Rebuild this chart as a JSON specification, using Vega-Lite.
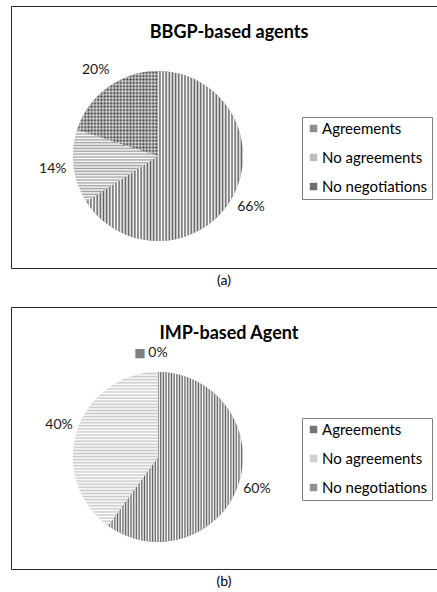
{
"$schema": "https://vega.github.io/schema/vega-lite/v6.json",
"padding": {"left": 10, "top": 5, "right": 0, "bottom": 0},
"background": "#ffffff",
"config": {"font": "Lato", "view": {"stroke": "#262626", "strokeWidth": 1}, "style": {"view": {"stroke": "#262626", "strokeWidth": 1}, "cell": {"stroke": "#262626", "strokeWidth": 1}}},
"datasets": {
  "bbgp": [{"cat": "Agreements", "value": 0.66}, {"cat": "No agreements", "value": 0.14}, {"cat": "No negotiations", "value": 0.20}],
  "imp": [{"cat": "Agreements", "value": 0.60}, {"cat": "No agreements", "value": 0.40}, {"cat": "No negotiations", "value": 0}]
},
"resolve": {"scale": {"fill": "independent", "theta": "independent"}, "legend": {"fill": "independent"}},
"spacing": 18,
"vconcat": [
{
  "title": {"text": "(a)", "orient": "bottom", "offset": 5, "fontSize": 14, "fontWeight": "normal", "color": "#000", "anchor": "middle"},
  "vconcat": [{
    "width": 426, "height": 262,
    "view": {"stroke": "#262626", "strokeWidth": 1},
    "data": {"name": "bbgp"},
    "title": {"text": "BBGP-based agents", "orient": "top", "offset": -36, "fontSize": 18, "fontWeight": "bold", "color": "#000", "anchor": "middle", "frame": "group", "dx": 5},
    "layer": [
      {"mark": {"type": "arc", "radius": 85, "x": 147, "y": 150},
       "encoding": {
         "theta": {"field": "value", "type": "quantitative", "stack": true},
         "order": {"field": "cat", "type": "ordinal"},
         "fill": {"field": "cat", "type": "nominal",
           "scale": {"domain": ["Agreements", "No agreements", "No negotiations"], "range": ["#5e5e5e", "#a0a0a0", "#333333"]},
           "legend": {"title": null, "orient": "none", "legendX": 291, "legendY": 111, "symbolType": "square", "symbolSize": 56, "symbolStrokeWidth": 0, "symbolOpacity": 0.7, "labelFontSize": 15, "labelColor": "#000", "labelFont": "Lato", "strokeColor": "#7f7f7f", "fillColor": "#fff", "padding": 4, "rowPadding": 13, "labelOffset": 1}}
       }},
      {"mark": {"type": "arc", "radius": 85, "x": 147, "y": 150},
       "encoding": {
         "theta": {"field": "value", "type": "quantitative", "stack": true},
         "order": {"field": "cat", "type": "ordinal"},
         "detail": {"field": "cat", "type": "nominal"},
         "fill": {"condition": [
           {"test": "datum.cat === 'Agreements'", "value": {"gradient": "linear", "x1": 0, "y1": 0, "x2": 1, "y2": 0, "stops": [{"offset":0,"color":"#fff"},{"offset":0.01,"color":"#fff0"},{"offset":0.02,"color":"#fff"},{"offset":0.03,"color":"#fff0"},{"offset":0.04,"color":"#fff"},{"offset":0.05,"color":"#fff0"},{"offset":0.06,"color":"#fff"},{"offset":0.07,"color":"#fff0"},{"offset":0.08,"color":"#fff"},{"offset":0.09,"color":"#fff0"},{"offset":0.1,"color":"#fff"},{"offset":0.11,"color":"#fff0"},{"offset":0.12,"color":"#fff"},{"offset":0.13,"color":"#fff0"},{"offset":0.14,"color":"#fff"},{"offset":0.15,"color":"#fff0"},{"offset":0.16,"color":"#fff"},{"offset":0.17,"color":"#fff0"},{"offset":0.18,"color":"#fff"},{"offset":0.19,"color":"#fff0"},{"offset":0.2,"color":"#fff"},{"offset":0.21,"color":"#fff0"},{"offset":0.22,"color":"#fff"},{"offset":0.23,"color":"#fff0"},{"offset":0.24,"color":"#fff"},{"offset":0.25,"color":"#fff0"},{"offset":0.26,"color":"#fff"},{"offset":0.27,"color":"#fff0"},{"offset":0.28,"color":"#fff"},{"offset":0.29,"color":"#fff0"},{"offset":0.3,"color":"#fff"},{"offset":0.31,"color":"#fff0"},{"offset":0.32,"color":"#fff"},{"offset":0.33,"color":"#fff0"},{"offset":0.34,"color":"#fff"},{"offset":0.35,"color":"#fff0"},{"offset":0.36,"color":"#fff"},{"offset":0.37,"color":"#fff0"},{"offset":0.38,"color":"#fff"},{"offset":0.39,"color":"#fff0"},{"offset":0.4,"color":"#fff"},{"offset":0.41,"color":"#fff0"},{"offset":0.42,"color":"#fff"},{"offset":0.43,"color":"#fff0"},{"offset":0.44,"color":"#fff"},{"offset":0.45,"color":"#fff0"},{"offset":0.46,"color":"#fff"},{"offset":0.47,"color":"#fff0"},{"offset":0.48,"color":"#fff"},{"offset":0.49,"color":"#fff0"},{"offset":0.5,"color":"#fff"},{"offset":0.51,"color":"#fff0"},{"offset":0.52,"color":"#fff"},{"offset":0.53,"color":"#fff0"},{"offset":0.54,"color":"#fff"},{"offset":0.55,"color":"#fff0"},{"offset":0.56,"color":"#fff"},{"offset":0.57,"color":"#fff0"},{"offset":0.58,"color":"#fff"},{"offset":0.59,"color":"#fff0"},{"offset":0.6,"color":"#fff"},{"offset":0.61,"color":"#fff0"},{"offset":0.62,"color":"#fff"},{"offset":0.63,"color":"#fff0"},{"offset":0.64,"color":"#fff"},{"offset":0.65,"color":"#fff0"},{"offset":0.66,"color":"#fff"},{"offset":0.67,"color":"#fff0"},{"offset":0.68,"color":"#fff"},{"offset":0.69,"color":"#fff0"},{"offset":0.7,"color":"#fff"},{"offset":0.71,"color":"#fff0"},{"offset":0.72,"color":"#fff"},{"offset":0.73,"color":"#fff0"},{"offset":0.74,"color":"#fff"},{"offset":0.75,"color":"#fff0"},{"offset":0.76,"color":"#fff"},{"offset":0.77,"color":"#fff0"},{"offset":0.78,"color":"#fff"},{"offset":0.79,"color":"#fff0"},{"offset":0.8,"color":"#fff"},{"offset":0.81,"color":"#fff0"},{"offset":0.82,"color":"#fff"},{"offset":0.83,"color":"#fff0"},{"offset":0.84,"color":"#fff"},{"offset":0.85,"color":"#fff0"},{"offset":0.86,"color":"#fff"},{"offset":0.87,"color":"#fff0"},{"offset":0.88,"color":"#fff"},{"offset":0.89,"color":"#fff0"},{"offset":0.9,"color":"#fff"},{"offset":0.91,"color":"#fff0"},{"offset":0.92,"color":"#fff"},{"offset":0.93,"color":"#fff0"},{"offset":0.94,"color":"#fff"},{"offset":0.95,"color":"#fff0"},{"offset":0.96,"color":"#fff"},{"offset":0.97,"color":"#fff0"},{"offset":0.98,"color":"#fff"},{"offset":0.99,"color":"#fff0"},{"offset":1,"color":"#fff"}]}},
           {"test": "datum.cat === 'No agreements'", "value": {"gradient": "linear", "x1": 0, "y1": 0, "x2": 0, "y2": 1, "stops": [{"offset":0,"color":"#fff"},{"offset":0.02,"color":"#fff0"},{"offset":0.04,"color":"#fff"},{"offset":0.06,"color":"#fff0"},{"offset":0.08,"color":"#fff"},{"offset":0.1,"color":"#fff0"},{"offset":0.12,"color":"#fff"},{"offset":0.14,"color":"#fff0"},{"offset":0.16,"color":"#fff"},{"offset":0.18,"color":"#fff0"},{"offset":0.2,"color":"#fff"},{"offset":0.22,"color":"#fff0"},{"offset":0.24,"color":"#fff"},{"offset":0.26,"color":"#fff0"},{"offset":0.28,"color":"#fff"},{"offset":0.3,"color":"#fff0"},{"offset":0.32,"color":"#fff"},{"offset":0.34,"color":"#fff0"},{"offset":0.36,"color":"#fff"},{"offset":0.38,"color":"#fff0"},{"offset":0.4,"color":"#fff"},{"offset":0.42,"color":"#fff0"},{"offset":0.44,"color":"#fff"},{"offset":0.46,"color":"#fff0"},{"offset":0.48,"color":"#fff"},{"offset":0.5,"color":"#fff0"},{"offset":0.52,"color":"#fff"},{"offset":0.54,"color":"#fff0"},{"offset":0.56,"color":"#fff"},{"offset":0.58,"color":"#fff0"},{"offset":0.6,"color":"#fff"},{"offset":0.62,"color":"#fff0"},{"offset":0.64,"color":"#fff"},{"offset":0.66,"color":"#fff0"},{"offset":0.68,"color":"#fff"},{"offset":0.7,"color":"#fff0"},{"offset":0.72,"color":"#fff"},{"offset":0.74,"color":"#fff0"},{"offset":0.76,"color":"#fff"},{"offset":0.78,"color":"#fff0"},{"offset":0.8,"color":"#fff"},{"offset":0.82,"color":"#fff0"},{"offset":0.84,"color":"#fff"},{"offset":0.86,"color":"#fff0"},{"offset":0.88,"color":"#fff"},{"offset":0.9,"color":"#fff0"},{"offset":0.92,"color":"#fff"},{"offset":0.94,"color":"#fff0"},{"offset":0.96,"color":"#fff"},{"offset":0.98,"color":"#fff0"},{"offset":1,"color":"#fff"}]}}
         ],
         "value": {"gradient": "linear", "x1": 0, "y1": 0, "x2": 1, "y2": 0, "stops": [{"offset":0,"color":"#fff9"},{"offset":0.02,"color":"#fff0"},{"offset":0.04,"color":"#fff9"},{"offset":0.06,"color":"#fff0"},{"offset":0.08,"color":"#fff9"},{"offset":0.1,"color":"#fff0"},{"offset":0.12,"color":"#fff9"},{"offset":0.14,"color":"#fff0"},{"offset":0.16,"color":"#fff9"},{"offset":0.18,"color":"#fff0"},{"offset":0.2,"color":"#fff9"},{"offset":0.22,"color":"#fff0"},{"offset":0.24,"color":"#fff9"},{"offset":0.26,"color":"#fff0"},{"offset":0.28,"color":"#fff9"},{"offset":0.3,"color":"#fff0"},{"offset":0.32,"color":"#fff9"},{"offset":0.34,"color":"#fff0"},{"offset":0.36,"color":"#fff9"},{"offset":0.38,"color":"#fff0"},{"offset":0.4,"color":"#fff9"},{"offset":0.42,"color":"#fff0"},{"offset":0.44,"color":"#fff9"},{"offset":0.46,"color":"#fff0"},{"offset":0.48,"color":"#fff9"},{"offset":0.5,"color":"#fff0"},{"offset":0.52,"color":"#fff9"},{"offset":0.54,"color":"#fff0"},{"offset":0.56,"color":"#fff9"},{"offset":0.58,"color":"#fff0"},{"offset":0.6,"color":"#fff9"},{"offset":0.62,"color":"#fff0"},{"offset":0.64,"color":"#fff9"},{"offset":0.66,"color":"#fff0"},{"offset":0.68,"color":"#fff9"},{"offset":0.7,"color":"#fff0"},{"offset":0.72,"color":"#fff9"},{"offset":0.74,"color":"#fff0"},{"offset":0.76,"color":"#fff9"},{"offset":0.78,"color":"#fff0"},{"offset":0.8,"color":"#fff9"},{"offset":0.82,"color":"#fff0"},{"offset":0.84,"color":"#fff9"},{"offset":0.86,"color":"#fff0"},{"offset":0.88,"color":"#fff9"},{"offset":0.9,"color":"#fff0"},{"offset":0.92,"color":"#fff9"},{"offset":0.94,"color":"#fff0"},{"offset":0.96,"color":"#fff9"},{"offset":0.98,"color":"#fff0"},{"offset":1,"color":"#fff9"}]}}
       }},
      {"mark": {"type": "arc", "radius": 85, "x": 147, "y": 150},
       "encoding": {
         "theta": {"field": "value", "type": "quantitative", "stack": true},
         "order": {"field": "cat", "type": "ordinal"},
         "detail": {"field": "cat", "type": "nominal"},
         "fill": {"condition": {"test": "datum.cat === 'No negotiations'", "value": {"gradient": "linear", "x1": 0, "y1": 0, "x2": 0, "y2": 1, "stops": [{"offset":0,"color":"#fff9"},{"offset":0.02,"color":"#fff0"},{"offset":0.04,"color":"#fff9"},{"offset":0.06,"color":"#fff0"},{"offset":0.08,"color":"#fff9"},{"offset":0.1,"color":"#fff0"},{"offset":0.12,"color":"#fff9"},{"offset":0.14,"color":"#fff0"},{"offset":0.16,"color":"#fff9"},{"offset":0.18,"color":"#fff0"},{"offset":0.2,"color":"#fff9"},{"offset":0.22,"color":"#fff0"},{"offset":0.24,"color":"#fff9"},{"offset":0.26,"color":"#fff0"},{"offset":0.28,"color":"#fff9"},{"offset":0.3,"color":"#fff0"},{"offset":0.32,"color":"#fff9"},{"offset":0.34,"color":"#fff0"},{"offset":0.36,"color":"#fff9"},{"offset":0.38,"color":"#fff0"},{"offset":0.4,"color":"#fff9"},{"offset":0.42,"color":"#fff0"},{"offset":0.44,"color":"#fff9"},{"offset":0.46,"color":"#fff0"},{"offset":0.48,"color":"#fff9"},{"offset":0.5,"color":"#fff0"},{"offset":0.52,"color":"#fff9"},{"offset":0.54,"color":"#fff0"},{"offset":0.56,"color":"#fff9"},{"offset":0.58,"color":"#fff0"},{"offset":0.6,"color":"#fff9"},{"offset":0.62,"color":"#fff0"},{"offset":0.64,"color":"#fff9"},{"offset":0.66,"color":"#fff0"},{"offset":0.68,"color":"#fff9"},{"offset":0.7,"color":"#fff0"},{"offset":0.72,"color":"#fff9"},{"offset":0.74,"color":"#fff0"},{"offset":0.76,"color":"#fff9"},{"offset":0.78,"color":"#fff0"},{"offset":0.8,"color":"#fff9"},{"offset":0.82,"color":"#fff0"},{"offset":0.84,"color":"#fff9"},{"offset":0.86,"color":"#fff0"},{"offset":0.88,"color":"#fff9"},{"offset":0.9,"color":"#fff0"},{"offset":0.92,"color":"#fff9"},{"offset":0.94,"color":"#fff0"},{"offset":0.96,"color":"#fff9"},{"offset":0.98,"color":"#fff0"},{"offset":1,"color":"#fff9"}]}}, "value": "transparent"}
       }},
      {"mark": {"type": "text", "radius": 106, "x": 147, "y": 150, "fontSize": 14, "color": "#1a1a1a", "font": "Lato"},
       "encoding": {
         "theta": {"field": "value", "type": "quantitative", "stack": true},
         "order": {"field": "cat", "type": "ordinal"},
         "detail": {"field": "cat", "type": "nominal"},
         "text": {"field": "value", "type": "quantitative", "format": ".0%"}
       }}
    ]
  }]
},
{
  "title": {"text": "(b)", "orient": "bottom", "offset": 5, "fontSize": 14, "fontWeight": "normal", "color": "#000", "anchor": "middle"},
  "vconcat": [{
    "width": 426, "height": 262,
    "view": {"stroke": "#262626", "strokeWidth": 1},
    "data": {"name": "imp"},
    "title": {"text": "IMP-based Agent", "orient": "top", "offset": -36, "fontSize": 18, "fontWeight": "bold", "color": "#000", "anchor": "middle", "frame": "group", "dx": 5},
    "layer": [
      {"mark": {"type": "arc", "radius": 85, "x": 147, "y": 150},
       "encoding": {
         "theta": {"field": "value", "type": "quantitative", "stack": true},
         "order": {"field": "cat", "type": "ordinal"},
         "fill": {"field": "cat", "type": "nominal",
           "scale": {"domain": ["Agreements", "No agreements", "No negotiations"], "range": ["#5e5e5e", "#c8c8c8", "#7f7f7f"]},
           "legend": {"title": null, "orient": "none", "legendX": 291, "legendY": 111, "symbolType": "square", "symbolSize": 56, "symbolStrokeWidth": 0, "symbolOpacity": 0.85, "labelFontSize": 15, "labelColor": "#000", "labelFont": "Lato", "strokeColor": "#7f7f7f", "fillColor": "#fff", "padding": 4, "rowPadding": 13, "labelOffset": 1}}
       }},
      {"mark": {"type": "arc", "radius": 85, "x": 147, "y": 150},
       "encoding": {
         "theta": {"field": "value", "type": "quantitative", "stack": true},
         "order": {"field": "cat", "type": "ordinal"},
         "detail": {"field": "cat", "type": "nominal"},
         "fill": {"condition": [
           {"test": "datum.cat === 'Agreements'", "value": {"gradient": "linear", "x1": 0, "y1": 0, "x2": 1, "y2": 0, "stops": [{"offset":0,"color":"#fff"},{"offset":0.01,"color":"#fff0"},{"offset":0.02,"color":"#fff"},{"offset":0.03,"color":"#fff0"},{"offset":0.04,"color":"#fff"},{"offset":0.05,"color":"#fff0"},{"offset":0.06,"color":"#fff"},{"offset":0.07,"color":"#fff0"},{"offset":0.08,"color":"#fff"},{"offset":0.09,"color":"#fff0"},{"offset":0.1,"color":"#fff"},{"offset":0.11,"color":"#fff0"},{"offset":0.12,"color":"#fff"},{"offset":0.13,"color":"#fff0"},{"offset":0.14,"color":"#fff"},{"offset":0.15,"color":"#fff0"},{"offset":0.16,"color":"#fff"},{"offset":0.17,"color":"#fff0"},{"offset":0.18,"color":"#fff"},{"offset":0.19,"color":"#fff0"},{"offset":0.2,"color":"#fff"},{"offset":0.21,"color":"#fff0"},{"offset":0.22,"color":"#fff"},{"offset":0.23,"color":"#fff0"},{"offset":0.24,"color":"#fff"},{"offset":0.25,"color":"#fff0"},{"offset":0.26,"color":"#fff"},{"offset":0.27,"color":"#fff0"},{"offset":0.28,"color":"#fff"},{"offset":0.29,"color":"#fff0"},{"offset":0.3,"color":"#fff"},{"offset":0.31,"color":"#fff0"},{"offset":0.32,"color":"#fff"},{"offset":0.33,"color":"#fff0"},{"offset":0.34,"color":"#fff"},{"offset":0.35,"color":"#fff0"},{"offset":0.36,"color":"#fff"},{"offset":0.37,"color":"#fff0"},{"offset":0.38,"color":"#fff"},{"offset":0.39,"color":"#fff0"},{"offset":0.4,"color":"#fff"},{"offset":0.41,"color":"#fff0"},{"offset":0.42,"color":"#fff"},{"offset":0.43,"color":"#fff0"},{"offset":0.44,"color":"#fff"},{"offset":0.45,"color":"#fff0"},{"offset":0.46,"color":"#fff"},{"offset":0.47,"color":"#fff0"},{"offset":0.48,"color":"#fff"},{"offset":0.49,"color":"#fff0"},{"offset":0.5,"color":"#fff"},{"offset":0.51,"color":"#fff0"},{"offset":0.52,"color":"#fff"},{"offset":0.53,"color":"#fff0"},{"offset":0.54,"color":"#fff"},{"offset":0.55,"color":"#fff0"},{"offset":0.56,"color":"#fff"},{"offset":0.57,"color":"#fff0"},{"offset":0.58,"color":"#fff"},{"offset":0.59,"color":"#fff0"},{"offset":0.6,"color":"#fff"},{"offset":0.61,"color":"#fff0"},{"offset":0.62,"color":"#fff"},{"offset":0.63,"color":"#fff0"},{"offset":0.64,"color":"#fff"},{"offset":0.65,"color":"#fff0"},{"offset":0.66,"color":"#fff"},{"offset":0.67,"color":"#fff0"},{"offset":0.68,"color":"#fff"},{"offset":0.69,"color":"#fff0"},{"offset":0.7,"color":"#fff"},{"offset":0.71,"color":"#fff0"},{"offset":0.72,"color":"#fff"},{"offset":0.73,"color":"#fff0"},{"offset":0.74,"color":"#fff"},{"offset":0.75,"color":"#fff0"},{"offset":0.76,"color":"#fff"},{"offset":0.77,"color":"#fff0"},{"offset":0.78,"color":"#fff"},{"offset":0.79,"color":"#fff0"},{"offset":0.8,"color":"#fff"},{"offset":0.81,"color":"#fff0"},{"offset":0.82,"color":"#fff"},{"offset":0.83,"color":"#fff0"},{"offset":0.84,"color":"#fff"},{"offset":0.85,"color":"#fff0"},{"offset":0.86,"color":"#fff"},{"offset":0.87,"color":"#fff0"},{"offset":0.88,"color":"#fff"},{"offset":0.89,"color":"#fff0"},{"offset":0.9,"color":"#fff"},{"offset":0.91,"color":"#fff0"},{"offset":0.92,"color":"#fff"},{"offset":0.93,"color":"#fff0"},{"offset":0.94,"color":"#fff"},{"offset":0.95,"color":"#fff0"},{"offset":0.96,"color":"#fff"},{"offset":0.97,"color":"#fff0"},{"offset":0.98,"color":"#fff"},{"offset":0.99,"color":"#fff0"},{"offset":1,"color":"#fff"}]}},
           {"test": "datum.cat === 'No agreements'", "value": {"gradient": "linear", "x1": 0, "y1": 0, "x2": 0, "y2": 1, "stops": [{"offset":0,"color":"#fff"},{"offset":0.01,"color":"#fff0"},{"offset":0.02,"color":"#fff"},{"offset":0.03,"color":"#fff0"},{"offset":0.04,"color":"#fff"},{"offset":0.05,"color":"#fff0"},{"offset":0.06,"color":"#fff"},{"offset":0.07,"color":"#fff0"},{"offset":0.08,"color":"#fff"},{"offset":0.09,"color":"#fff0"},{"offset":0.1,"color":"#fff"},{"offset":0.11,"color":"#fff0"},{"offset":0.12,"color":"#fff"},{"offset":0.13,"color":"#fff0"},{"offset":0.14,"color":"#fff"},{"offset":0.15,"color":"#fff0"},{"offset":0.16,"color":"#fff"},{"offset":0.17,"color":"#fff0"},{"offset":0.18,"color":"#fff"},{"offset":0.19,"color":"#fff0"},{"offset":0.2,"color":"#fff"},{"offset":0.21,"color":"#fff0"},{"offset":0.22,"color":"#fff"},{"offset":0.23,"color":"#fff0"},{"offset":0.24,"color":"#fff"},{"offset":0.25,"color":"#fff0"},{"offset":0.26,"color":"#fff"},{"offset":0.27,"color":"#fff0"},{"offset":0.28,"color":"#fff"},{"offset":0.29,"color":"#fff0"},{"offset":0.3,"color":"#fff"},{"offset":0.31,"color":"#fff0"},{"offset":0.32,"color":"#fff"},{"offset":0.33,"color":"#fff0"},{"offset":0.34,"color":"#fff"},{"offset":0.35,"color":"#fff0"},{"offset":0.36,"color":"#fff"},{"offset":0.37,"color":"#fff0"},{"offset":0.38,"color":"#fff"},{"offset":0.39,"color":"#fff0"},{"offset":0.4,"color":"#fff"},{"offset":0.41,"color":"#fff0"},{"offset":0.42,"color":"#fff"},{"offset":0.43,"color":"#fff0"},{"offset":0.44,"color":"#fff"},{"offset":0.45,"color":"#fff0"},{"offset":0.46,"color":"#fff"},{"offset":0.47,"color":"#fff0"},{"offset":0.48,"color":"#fff"},{"offset":0.49,"color":"#fff0"},{"offset":0.5,"color":"#fff"},{"offset":0.51,"color":"#fff0"},{"offset":0.52,"color":"#fff"},{"offset":0.53,"color":"#fff0"},{"offset":0.54,"color":"#fff"},{"offset":0.55,"color":"#fff0"},{"offset":0.56,"color":"#fff"},{"offset":0.57,"color":"#fff0"},{"offset":0.58,"color":"#fff"},{"offset":0.59,"color":"#fff0"},{"offset":0.6,"color":"#fff"},{"offset":0.61,"color":"#fff0"},{"offset":0.62,"color":"#fff"},{"offset":0.63,"color":"#fff0"},{"offset":0.64,"color":"#fff"},{"offset":0.65,"color":"#fff0"},{"offset":0.66,"color":"#fff"},{"offset":0.67,"color":"#fff0"},{"offset":0.68,"color":"#fff"},{"offset":0.69,"color":"#fff0"},{"offset":0.7,"color":"#fff"},{"offset":0.71,"color":"#fff0"},{"offset":0.72,"color":"#fff"},{"offset":0.73,"color":"#fff0"},{"offset":0.74,"color":"#fff"},{"offset":0.75,"color":"#fff0"},{"offset":0.76,"color":"#fff"},{"offset":0.77,"color":"#fff0"},{"offset":0.78,"color":"#fff"},{"offset":0.79,"color":"#fff0"},{"offset":0.8,"color":"#fff"},{"offset":0.81,"color":"#fff0"},{"offset":0.82,"color":"#fff"},{"offset":0.83,"color":"#fff0"},{"offset":0.84,"color":"#fff"},{"offset":0.85,"color":"#fff0"},{"offset":0.86,"color":"#fff"},{"offset":0.87,"color":"#fff0"},{"offset":0.88,"color":"#fff"},{"offset":0.89,"color":"#fff0"},{"offset":0.9,"color":"#fff"},{"offset":0.91,"color":"#fff0"},{"offset":0.92,"color":"#fff"},{"offset":0.93,"color":"#fff0"},{"offset":0.94,"color":"#fff"},{"offset":0.95,"color":"#fff0"},{"offset":0.96,"color":"#fff"},{"offset":0.97,"color":"#fff0"},{"offset":0.98,"color":"#fff"},{"offset":0.99,"color":"#fff0"},{"offset":1,"color":"#fff"}]}}
         ],
         "value": "transparent"}
       }},
      {"mark": {"type": "text", "radius": 104, "x": 147, "y": 150, "fontSize": 14, "color": "#1a1a1a", "font": "Lato"},
       "encoding": {
         "theta": {"field": "value", "type": "quantitative", "stack": true},
         "order": {"field": "cat", "type": "ordinal"},
         "detail": {"field": "cat", "type": "nominal"},
         "text": {"field": "value", "type": "quantitative", "format": ".0%"}
       }},
      {"mark": {"type": "text", "radius": 104, "x": 147, "y": 150, "fontSize": 12, "color": "#7f7f7f", "dx": -18, "font": "DejaVu Sans"},
       "encoding": {
         "theta": {"field": "value", "type": "quantitative", "stack": true},
         "order": {"field": "cat", "type": "ordinal"},
         "detail": {"field": "cat", "type": "nominal"},
         "text": {"condition": {"test": "datum.value === 0", "value": "■"}, "value": ""}
       }}
    ]
  }]
}
]
}
